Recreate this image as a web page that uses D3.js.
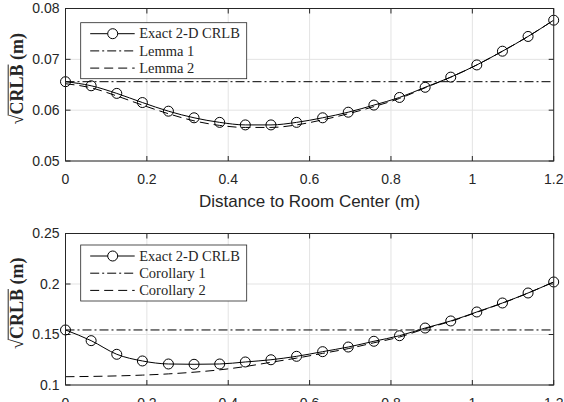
<!DOCTYPE html>
<html lang="en">
<head>
<meta charset="UTF-8">
<title>CRLB vs distance</title>
<script src="https://cdnjs.cloudflare.com/ajax/libs/d3/7.8.5/d3.min.js"></script>
<style>
  body { margin: 0; background: #fff; }
  svg { display: block; }
  .tick-label { font-family: "Liberation Sans", Arial, sans-serif; font-size: 14px; fill: #262626; }
  .axis-title { font-family: "Liberation Sans", Arial, sans-serif; font-size: 17px; fill: #262626; }
  .legend-text { font-family: "Liberation Serif", "Times New Roman", serif; font-size: 14.5px; fill: #262626; }
  .y-title { font-family: "Liberation Serif", "Times New Roman", serif; font-size: 18px; font-weight: bold; fill: #262626; }
  .grid { stroke: #e3e3e3; stroke-width: 1; }
  .frame { fill: none; stroke: #262626; stroke-width: 1; }
</style>
</head>
<body>
<div id="chart"></div>
<script>
// data
var distance = [0, 0.063, 0.126, 0.189, 0.253, 0.316, 0.379, 0.442, 0.505, 0.568,
                0.632, 0.695, 0.758, 0.821, 0.884, 0.947, 1.011, 1.074, 1.137, 1.2];

var exactTop = [0.0656, 0.0648, 0.0633, 0.0615, 0.0598, 0.0585, 0.0576, 0.0571, 0.0571, 0.0576,
                0.0585, 0.0596, 0.0610, 0.0625, 0.0645, 0.0665, 0.0689, 0.0716, 0.0745, 0.0777];
var lemma1 = 0.0656;
var lemma2 = [0.0652, 0.0644, 0.0628, 0.0610, 0.0593, 0.0579, 0.0570, 0.0566, 0.0566, 0.0571,
              0.0581, 0.0593, 0.0607, 0.0623, 0.0644, 0.0665, 0.0689, 0.0716, 0.0745, 0.0777];

var exactBottom = [0.1545, 0.1439, 0.1304, 0.1238, 0.1208, 0.1205, 0.1208, 0.1228, 0.1250, 0.1284,
                   0.1330, 0.1376, 0.1433, 0.1488, 0.1564, 0.1634, 0.1723, 0.1812, 0.1911, 0.2020];
var corollary1 = 0.1545;
var corollary2 = [0.1082, 0.1085, 0.1090, 0.1098, 0.1110, 0.1127, 0.1150, 0.1183, 0.1225, 0.1266,
                  0.1313, 0.1360, 0.1418, 0.1475, 0.1557, 0.1630, 0.1720, 0.1810, 0.1910, 0.2020];

var xTicks = [0, 0.2, 0.4, 0.6, 0.8, 1, 1.2];
var yTicksTop = [0.05, 0.06, 0.07, 0.08];
var yTicksBottom = [0.1, 0.15, 0.2, 0.25];
var legendTop = ["Exact 2-D CRLB", "Lemma 1", "Lemma 2"];
var legendBottom = ["Exact 2-D CRLB", "Corollary 1", "Corollary 2"];

var width = 564, height = 402;
var svg = d3.select('#chart').append('svg')
    .attr('width', width)
    .attr('height', height);

var dashDot = "9,3,2,3",
    dashed = "9,5";

function drawPanel(p) {
  var x = d3.scaleLinear().domain([0, 1.2]).range([65.5, 553.7]);
  var y = d3.scaleLinear().domain(p.yDomain).range([p.bottom, p.top]);
  var g = svg.append('g');

  // grid
  g.selectAll('line.gx').data(xTicks).enter().append('line')
    .attr('class', 'grid')
    .attr('x1', x).attr('x2', x)
    .attr('y1', p.top).attr('y2', p.bottom);
  g.selectAll('line.gy').data(p.yTicks).enter().append('line')
    .attr('class', 'grid')
    .attr('x1', x(0)).attr('x2', x(1.2))
    .attr('y1', y).attr('y2', y);

  // ticks inward on all sides
  var tl = 5;
  xTicks.forEach(function (t) {
    g.append('line').attr('class', 'frame').attr('x1', x(t)).attr('x2', x(t)).attr('y1', p.bottom).attr('y2', p.bottom - tl);
    g.append('line').attr('class', 'frame').attr('x1', x(t)).attr('x2', x(t)).attr('y1', p.top).attr('y2', p.top + tl);
  });
  p.yTicks.forEach(function (t) {
    g.append('line').attr('class', 'frame').attr('x1', x(0)).attr('x2', x(0) + tl).attr('y1', y(t)).attr('y2', y(t));
    g.append('line').attr('class', 'frame').attr('x1', x(1.2)).attr('x2', x(1.2) - tl).attr('y1', y(t)).attr('y2', y(t));
  });

  // tick labels
  g.selectAll('text.xt').data(xTicks).enter().append('text')
    .attr('class', 'tick-label')
    .attr('x', x).attr('y', p.bottom + 23)
    .attr('text-anchor', 'middle')
    .text(function (d) { return d; });
  g.selectAll('text.yt').data(p.yTicks).enter().append('text')
    .attr('class', 'tick-label')
    .attr('x', x(0) - 6).attr('y', y)
    .attr('dy', '0.35em')
    .attr('text-anchor', 'end')
    .text(function (d) { return p.fmt(d); });

  // curves
  var line = d3.line()
    .x(function (d) { return x(d[0]); })
    .y(function (d) { return y(d[1]); })
    .curve(d3.curveMonotoneX);

  g.append('line')
    .attr('x1', x(0)).attr('x2', x(1.2))
    .attr('y1', y(p.flat)).attr('y2', y(p.flat))
    .attr('stroke', '#000').attr('stroke-width', 1)
    .attr('stroke-dasharray', dashDot);

  g.append('path')
    .datum(d3.zip(distance, p.approx))
    .attr('d', line)
    .attr('fill', 'none').attr('stroke', '#000').attr('stroke-width', 1)
    .attr('stroke-dasharray', dashed);

  g.append('path')
    .datum(d3.zip(distance, p.exact))
    .attr('d', line)
    .attr('fill', 'none').attr('stroke', '#000').attr('stroke-width', 1);

  g.selectAll('circle.m').data(d3.zip(distance, p.exact)).enter().append('circle')
    .attr('cx', function (d) { return x(d[0]); })
    .attr('cy', function (d) { return y(d[1]); })
    .attr('r', 5)
    .attr('fill', 'none').attr('stroke', '#000').attr('stroke-width', 1);

  // frame
  g.append('rect').attr('class', 'frame')
    .attr('x', x(0)).attr('y', p.top)
    .attr('width', x(1.2) - x(0)).attr('height', p.bottom - p.top);

  // legend
  var lx = 80.7, ly = p.top + p.legendDy, lw = 166, lh = 56;
  var lg = g.append('g');
  lg.append('rect').attr('x', lx).attr('y', ly).attr('width', lw).attr('height', lh)
    .attr('fill', '#fff').attr('stroke', '#262626').attr('stroke-width', 0.8);
  var styles = [null, dashDot, dashed];
  p.legend.forEach(function (name, i) {
    var yy = ly + 11 + i * 17.2;
    lg.append('line').attr('x1', lx + 9.5).attr('x2', lx + 54)
      .attr('y1', yy).attr('y2', yy)
      .attr('stroke', '#000').attr('stroke-width', 1)
      .attr('stroke-dasharray', styles[i]);
    if (i === 0) {
      lg.append('circle').attr('cx', lx + 32).attr('cy', yy).attr('r', 5)
        .attr('fill', '#fff').attr('stroke', '#000');
    }
    lg.append('text').attr('class', 'legend-text')
      .attr('x', lx + 58.5).attr('y', yy).attr('dy', '0.33em')
      .text(name);
  });

  // y title: sqrt(CRLB) (m)
  var cy = (p.top + p.bottom) / 2 - 6;
  var yt = g.append('text').attr('class', 'y-title')
    .attr('transform', 'translate(22.5,' + cy + ') rotate(-90)')
    .attr('text-anchor', 'middle');
  yt.append('tspan').attr('font-weight', 'normal').text('\u221A');
  yt.append('tspan').text('CRLB');
  yt.append('tspan').text(' (m)');
  var node = yt.node();
  var s = node.getStartPositionOfChar(1).x, e = node.getEndPositionOfChar(4).x;
  var gy = node.getStartPositionOfChar(0).y;
  g.append('line')
    .attr('transform', 'translate(22.5,' + cy + ') rotate(-90)')
    .attr('x1', s - 1).attr('x2', e)
    .attr('y1', gy - 14.3).attr('y2', gy - 14.3)
    .attr('stroke', '#262626').attr('stroke-width', 1);

  if (p.xTitle) {
    g.append('text').attr('class', 'axis-title')
      .attr('x', (x(0) + x(1.2)) / 2).attr('y', p.bottom + 46)
      .attr('text-anchor', 'middle')
      .text(p.xTitle);
  }
}

drawPanel({
  top: 8.5, bottom: 161, yDomain: [0.05, 0.08], yTicks: yTicksTop,
  fmt: d3.format('.2f'),
  exact: exactTop, approx: lemma2, flat: lemma1,
  legend: legendTop, legendDy: 14.2,
  xTitle: 'Distance to Room Center (m)'
});

drawPanel({
  top: 233.5, bottom: 385, yDomain: [0.1, 0.25], yTicks: yTicksBottom,
  fmt: function (d) { return String(d); },
  exact: exactBottom, approx: corollary2, flat: corollary1,
  legend: legendBottom, legendDy: 11.5,
  xTitle: null
});
</script>
</body>
</html>
